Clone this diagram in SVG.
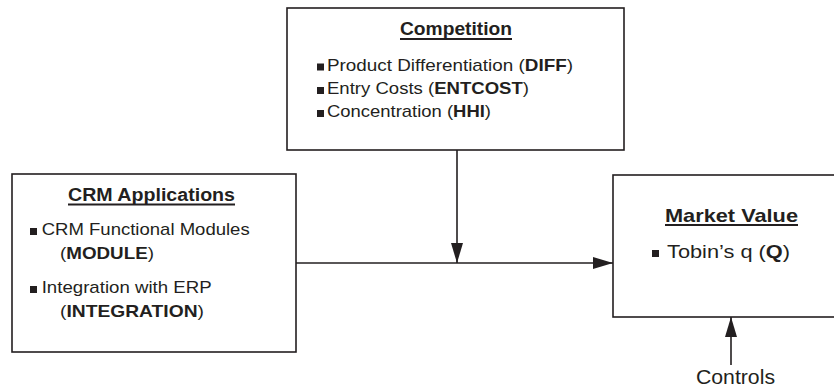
<svg xmlns="http://www.w3.org/2000/svg" width="834" height="391" viewBox="0 0 834 391">
<style>
.box{fill:#fff;stroke:#231f20;stroke-width:1.6}
.t{font-family:"Liberation Sans",Arial,sans-serif;fill:#231f20}
.ttl{font-weight:bold;font-size:17.5px}
.body{font-size:17px}
.ul{stroke:#231f20;stroke-width:1.8}
.bul{fill:#231f20}
.b{font-weight:bold}
.conn{stroke:#231f20;stroke-width:1.6;fill:none}
</style>
<defs>
<marker id="ah" markerUnits="userSpaceOnUse" markerWidth="20" markerHeight="12" refX="20" refY="6" orient="auto">
<path d="M0,0 L20,6 L0,12 z" fill="#231f20"/>
</marker>
</defs>
<g id="competition">
<rect class="box" x="287" y="8" width="337" height="142"/>
<text class="t ttl" x="400" y="35" textLength="112" lengthAdjust="spacingAndGlyphs">Competition</text>
<line class="ul" x1="400" y1="39" x2="512" y2="39"/>
<rect class="bul" x="317" y="63.5" width="7" height="7"/>
<text class="t body" x="327" y="70.5" textLength="246" lengthAdjust="spacingAndGlyphs">Product Differentiation (<tspan class="b">DIFF</tspan>)</text>
<rect class="bul" x="317" y="87" width="7" height="7"/>
<text class="t body" x="327" y="94" textLength="202" lengthAdjust="spacingAndGlyphs">Entry Costs (<tspan class="b">ENTCOST</tspan>)</text>
<rect class="bul" x="317" y="110" width="7" height="7"/>
<text class="t body" x="327" y="117" textLength="164" lengthAdjust="spacingAndGlyphs">Concentration (<tspan class="b">HHI</tspan>)</text>
</g>
<g id="crm">
<rect class="box" x="12" y="174" width="284" height="178"/>
<text class="t ttl" x="68" y="201" textLength="167" lengthAdjust="spacingAndGlyphs">CRM Applications</text>
<line class="ul" x1="68" y1="204.5" x2="235" y2="204.5"/>
<rect class="bul" x="30" y="228" width="7" height="7"/>
<text class="t body" x="41.7" y="235" textLength="208" lengthAdjust="spacingAndGlyphs">CRM Functional Modules</text>
<text class="t body" x="60" y="259" textLength="94" lengthAdjust="spacingAndGlyphs">(<tspan class="b">MODULE</tspan>)</text>
<rect class="bul" x="30" y="286" width="7" height="7"/>
<text class="t body" x="41.7" y="293" textLength="170" lengthAdjust="spacingAndGlyphs">Integration with ERP</text>
<text class="t body" x="60" y="317" textLength="144" lengthAdjust="spacingAndGlyphs">(<tspan class="b">INTEGRATION</tspan>)</text>
</g>
<g id="market">
<rect class="box" x="613" y="175" width="230" height="142"/>
<text class="t ttl" x="665" y="221.5" textLength="133" lengthAdjust="spacingAndGlyphs" style="font-size:18.5px">Market Value</text>
<line class="ul" x1="665" y1="225" x2="798" y2="225"/>
<rect class="bul" x="652" y="250" width="7" height="7"/>
<text class="t body" x="667" y="258" textLength="123" lengthAdjust="spacingAndGlyphs" style="font-size:18px">Tobin’s q (<tspan class="b">Q</tspan>)</text>
</g>
<g id="controls">
<text class="t" x="696" y="384" textLength="79" lengthAdjust="spacingAndGlyphs" style="font-size:19.5px">Controls</text>
</g>
<g id="connectors">
<line class="conn" x1="296" y1="263" x2="613" y2="263" marker-end="url(#ah)"/>
<line class="conn" x1="457" y1="150" x2="457" y2="263" marker-end="url(#ah)"/>
<line class="conn" x1="731" y1="365" x2="731" y2="317" marker-end="url(#ah)"/>
</g>
</svg>
